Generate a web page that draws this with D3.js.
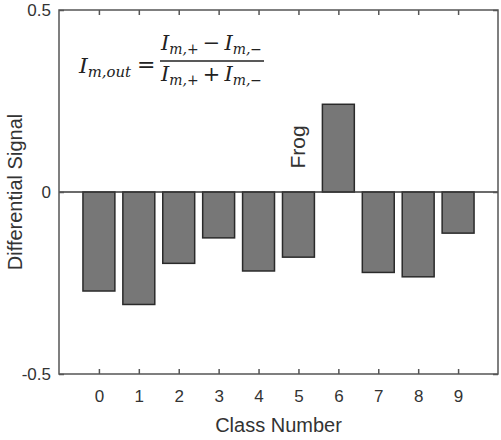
<!DOCTYPE html>
<html>
<head>
<meta charset="utf-8">
<script src="https://cdn.jsdelivr.net/npm/d3@7"></script>
<style>
  html, body { margin: 0; padding: 0; background: #fff; }
  svg { display: block; }
</style>
</head>
<body>
<svg id="chart" width="501" height="440"></svg>
<script>
// ---- data ----
const classes = [0, 1, 2, 3, 4, 5, 6, 7, 8, 9];
const signal = [-0.272, -0.309, -0.196, -0.126, -0.217, -0.179, 0.241, -0.221, -0.233, -0.113];
const yTicks = [-0.5, 0, 0.5];
const yTickLabels = ["-0.5", "0", "0.5"];
const annotationLabel = "Frog";
const annotationClass = 6;
const xTitle = "Class Number";
const yTitle = "Differential Signal";

(function () {
// ---- layout ----
const svg = d3.select("#chart");
const pl = 59, pr = 498, pt = 10, pb = 374;
const x = d3.scaleLinear().domain([-1, 10]).range([pl, pr]);
const y = d3.scaleLinear().domain([-0.5, 0.5]).range([pb, pt]);
const barW = x(0.4) - x(-0.4);
const axisCol = "#555555";
const textCol = "#333";

// bars
svg.append("g").selectAll("rect").data(classes).join("rect")
  .attr("x", (d) => x(d) - barW / 2)
  .attr("y", (d, i) => y(Math.max(0, signal[i])))
  .attr("width", barW)
  .attr("height", (d, i) => Math.abs(y(signal[i]) - y(0)))
  .attr("fill", "#777777")
  .attr("stroke", "#2a2a2a")
  .attr("stroke-width", 1.5);

// zero line
svg.append("line")
  .attr("x1", pl).attr("x2", pr)
  .attr("y1", y(0)).attr("y2", y(0))
  .attr("stroke", "#3a3a3a").attr("stroke-width", 1.5);

// axes
const fontFam = "Liberation Sans, Arial, sans-serif";
function styleAxis(g) {
  g.select(".domain").remove();
  g.selectAll(".tick line").attr("stroke", axisCol).attr("stroke-width", 1.5);
  g.selectAll(".tick text").attr("fill", textCol).style("font-family", fontFam).style("font-size", "17px");
}
svg.append("g").attr("transform", `translate(0,${pb})`)
  .call(d3.axisBottom(x).tickValues(classes).tickFormat(d3.format("d")).tickSizeInner(-5).tickSizeOuter(0).tickPadding(16))
  .call(styleAxis);
svg.append("g").attr("transform", `translate(0,${pt})`)
  .call(d3.axisTop(x).tickValues(classes).tickFormat("").tickSizeInner(-5).tickSizeOuter(0))
  .call(styleAxis);
svg.append("g").attr("transform", `translate(${pl},0)`)
  .call(d3.axisLeft(y).tickValues(yTicks).tickFormat((d, i) => yTickLabels[i]).tickSizeInner(-5).tickSizeOuter(0).tickPadding(8))
  .call(styleAxis);
svg.append("g").attr("transform", `translate(${pr},0)`)
  .call(d3.axisRight(y).tickValues(yTicks).tickFormat("").tickSizeInner(-5).tickSizeOuter(0))
  .call(styleAxis);

// frame
svg.append("rect")
  .attr("x", pl).attr("y", pt).attr("width", pr - pl).attr("height", pb - pt)
  .attr("fill", "none").attr("stroke", axisCol).attr("stroke-width", 1.5);

// titles
svg.append("text")
  .attr("x", (pl + pr) / 2).attr("y", 432)
  .attr("text-anchor", "middle").attr("fill", textCol)
  .style("font-family", fontFam).style("font-size", "20px")
  .text(xTitle);
svg.append("text")
  .attr("transform", `translate(22,${(pt + pb) / 2}) rotate(-90)`)
  .attr("text-anchor", "middle").attr("fill", textCol)
  .style("font-family", fontFam).style("font-size", "20px")
  .text(yTitle);

// annotation
svg.append("text")
  .attr("transform", `translate(${x(annotationClass) - 33},147) rotate(-90)`)
  .attr("text-anchor", "middle").attr("fill", textCol)
  .style("font-family", fontFam).style("font-size", "21px")
  .text(annotationLabel);

// formula
const mf = "DejaVu Serif, serif";
const f = svg.append("g").attr("fill", "#222").style("font-family", mf).style("font-style", "italic");
function line(xPos, base, parts, width) {
  const t = f.append("text").attr("x", xPos).attr("y", base).style("font-size", "21px")
    .attr("textLength", width).attr("lengthAdjust", "spacingAndGlyphs");
  let cur = 0;
  parts.forEach(([s, sub, op]) => {
    const off = sub ? 4 : 0;
    const sp = t.append("tspan").attr("dy", off - cur).text(s);
    cur = off;
    if (sub) sp.style("font-size", "14px");
    if (op) sp.style("font-style", "normal");
  });
}
line(79, 73, [["I"], ["m,out", true]], 52);
f.append("text").attr("x", 137).attr("y", 72).style("font-style", "normal").style("font-size", "22px").text("=");
line(161, 50, [["I"], ["m,+", true], ["\u2009\u2212\u2009", false, true], ["I"], ["m,\u2212", true]], 101);
f.append("line").attr("x1", 160).attr("x2", 264).attr("y1", 61).attr("y2", 61).attr("stroke", "#222").attr("stroke-width", 1.6);
line(161, 81, [["I"], ["m,+", true], ["\u2009+\u2009", false, true], ["I"], ["m,\u2212", true]], 101);
})();
</script>
</body>
</html>
